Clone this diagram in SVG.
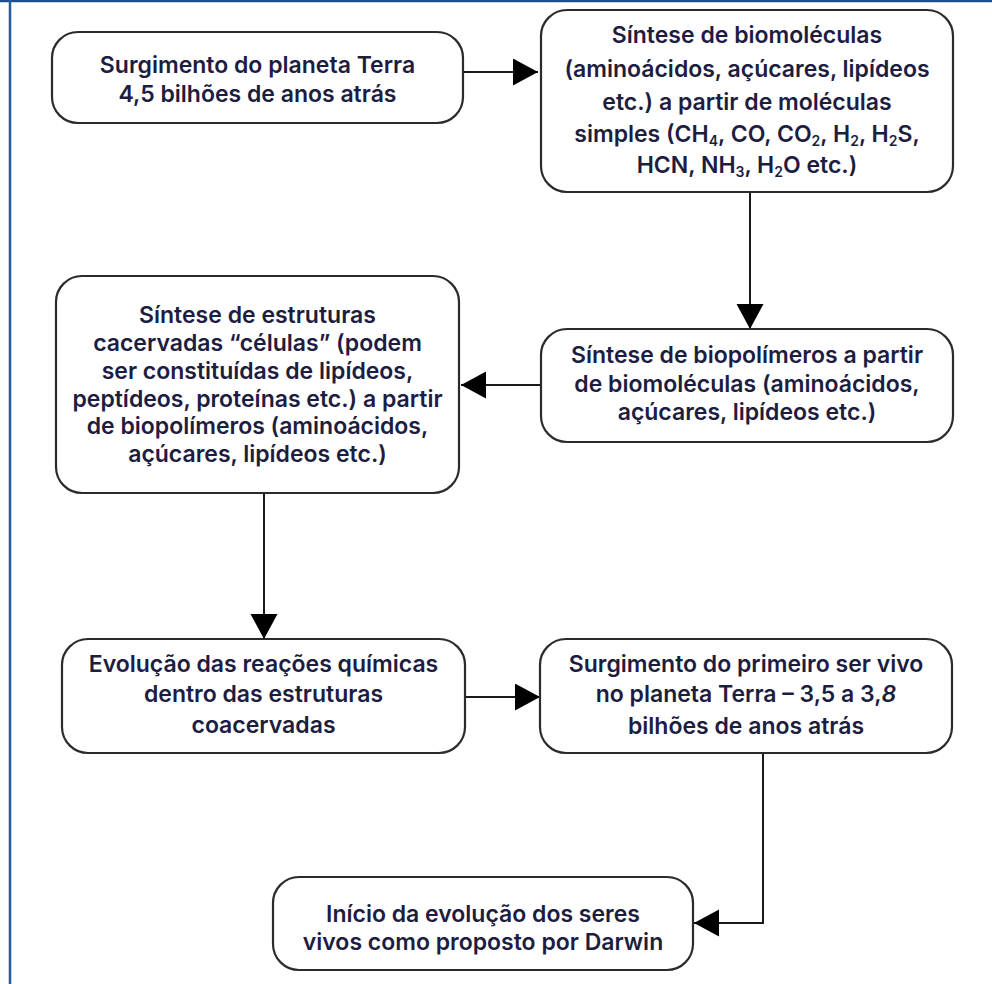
<svg xmlns="http://www.w3.org/2000/svg" width="992" height="984" viewBox="0 0 992 984">
  <style>
    .box { fill: #ffffff; stroke: #2b2b2b; stroke-width: 2.2; }
    .lbl { font-family: Inter, "Open Sans", "DejaVu Sans", sans-serif; font-weight: 600; font-size: 23px; fill: #1d1d42; text-anchor: middle; }
    .sub { font-size: 14px; }
    .wire { fill: none; stroke: #1a1a1a; stroke-width: 2; }
  </style>
  <defs>
    <marker id="head" markerUnits="userSpaceOnUse" markerWidth="26" markerHeight="28" refX="25" refY="13.5" orient="auto">
      <path d="M0,0 L25,13.5 L0,27 z" fill="#000000"/>
    </marker>
  </defs>

  <!-- page frame -->
  <rect x="0" y="0" width="992" height="984" fill="#ffffff"/>
  <line x1="0" y1="1" x2="992" y2="1" stroke="#1f4e8c" stroke-width="2.5"/>
  <line x1="10" y1="0" x2="10" y2="984" stroke="#2a5a9a" stroke-width="2.5"/>

  <!-- connectors -->
  <g id="connectors">
    <path class="wire" d="M463,72 H538" marker-end="url(#head)"/>
    <path class="wire" d="M750,192 V329" marker-end="url(#head)"/>
    <path class="wire" d="M541,385 H461" marker-end="url(#head)"/>
    <path class="wire" d="M264,493 V639" marker-end="url(#head)"/>
    <path class="wire" d="M465,697 H540" marker-end="url(#head)"/>
    <path class="wire" d="M763,753 V923 H694" marker-end="url(#head)"/>
  </g>

  <g id="n-terra">
    <rect class="box" x="52" y="32" width="411" height="91" rx="26"/>
    <text class="lbl" x="257.5" y="73">Surgimento do planeta Terra</text>
    <text class="lbl" x="257.5" y="102">4,5 bilhões de anos atrás</text>
  </g>

  <g id="n-biomoleculas">
    <rect class="box" x="541" y="10" width="412" height="182" rx="26"/>
    <text class="lbl" x="747" y="43">Síntese de biomoléculas</text>
    <text class="lbl" x="747" y="77">(aminoácidos, açúcares, lipídeos</text>
    <text class="lbl" x="747" y="110">etc.) a partir de moléculas</text>
    <text class="lbl" x="747" y="142">simples (CH<tspan class="sub" dy="4">4</tspan><tspan dy="-4">, CO, CO</tspan><tspan class="sub" dy="4">2</tspan><tspan dy="-4">, H</tspan><tspan class="sub" dy="4">2</tspan><tspan dy="-4">, H</tspan><tspan class="sub" dy="4">2</tspan><tspan dy="-4">S,</tspan></text>
    <text class="lbl" x="747" y="173">HCN, NH<tspan class="sub" dy="4">3</tspan><tspan dy="-4">, H</tspan><tspan class="sub" dy="4">2</tspan><tspan dy="-4">O etc.)</tspan></text>
  </g>

  <g id="n-biopolimeros">
    <rect class="box" x="541" y="329" width="412" height="113" rx="26"/>
    <text class="lbl" x="747" y="363">Síntese de biopolímeros a partir</text>
    <text class="lbl" x="747" y="392">de biomoléculas (aminoácidos,</text>
    <text class="lbl" x="747" y="420">açúcares, lipídeos etc.)</text>
  </g>

  <g id="n-coacervados">
    <rect class="box" x="56" y="276" width="403" height="217" rx="26"/>
    <text class="lbl" x="257.5" y="323">Síntese de estruturas</text>
    <text class="lbl" x="257.5" y="351">cacervadas “células” (podem</text>
    <text class="lbl" x="257.5" y="379">ser constituídas de lipídeos,</text>
    <text class="lbl" x="257.5" y="407">peptídeos, proteínas etc.) a partir</text>
    <text class="lbl" x="257.5" y="434">de biopolímeros (aminoácidos,</text>
    <text class="lbl" x="257.5" y="462">açúcares, lipídeos etc.)</text>
  </g>

  <g id="n-reacoes">
    <rect class="box" x="62" y="639" width="403" height="114" rx="26"/>
    <text class="lbl" x="263.5" y="672">Evolução das reações químicas</text>
    <text class="lbl" x="263.5" y="702">dentro das estruturas</text>
    <text class="lbl" x="263.5" y="733">coacervadas</text>
  </g>

  <g id="n-primeiro">
    <rect class="box" x="540" y="639" width="412" height="114" rx="26"/>
    <text class="lbl" x="746" y="672">Surgimento do primeiro ser vivo</text>
    <text class="lbl" x="746" y="702">no planeta Terra – 3,5 a 3,<tspan font-style="italic">8</tspan></text>
    <text class="lbl" x="746" y="734">bilhões de anos atrás</text>
  </g>

  <g id="n-darwin">
    <rect class="box" x="273" y="877" width="420" height="93" rx="26"/>
    <text class="lbl" x="483" y="922">Início da evolução dos seres</text>
    <text class="lbl" x="483" y="950">vivos como proposto por Darwin</text>
  </g>
</svg>
